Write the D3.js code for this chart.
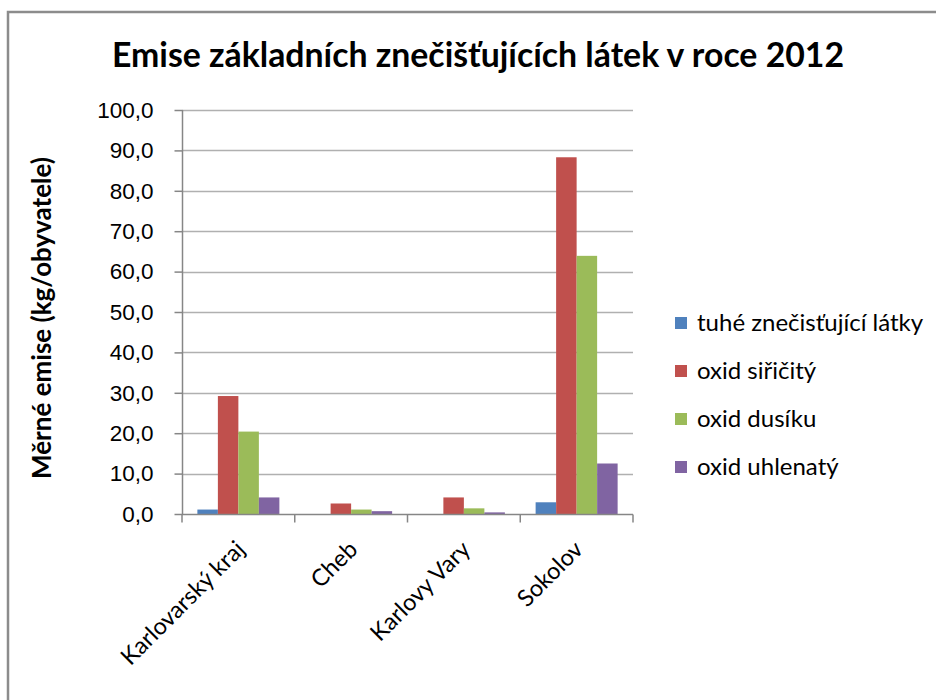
<!DOCTYPE html>
<html lang="cs">
<head>
<meta charset="UTF-8">
<title>Emise 2012</title>
<script src="https://cdn.jsdelivr.net/npm/d3@7"></script>
<style>
  body { margin: 0; background: #fff; }
  svg { display: block; font-family: Lato, "Open Sans", sans-serif; }
</style>
</head>
<body>
<div id="chart"></div>
<script>
// data
var categories = ["Karlovarský kraj", "Cheb", "Karlovy Vary", "Sokolov"];
var seriesNames = ["tuhé znečisťující látky", "oxid siřičitý", "oxid dusíku", "oxid uhlenatý"];
var seriesColors = ["#4F81BD", "#C0504D", "#9BBB59", "#8064A2"];
var tuhe = [1.1, 0.0, 0.0, 2.9];
var siricity = [29.2, 2.6, 4.1, 88.3];
var dusiku = [20.4, 1.1, 1.4, 63.9];
var uhlenaty = [4.1, 0.7, 0.4, 12.5];
var yTicks = [0, 10, 20, 30, 40, 50, 60, 70, 80, 90, 100];

var values = [tuhe, siricity, dusiku, uhlenaty];

var W = 936, H = 700;
var plot = { left: 182, right: 633, top: 110, bottom: 514 };

var svg = d3.select("#chart").append("svg")
    .attr("width", W).attr("height", H);

// outer frame (runs off the right and bottom edge)
svg.append("rect")
    .attr("x", 8).attr("y", 12)
    .attr("width", 940).attr("height", 700)
    .attr("fill", "#fff")
    .attr("stroke", "#8c8c8c").attr("stroke-width", 2.5);

var x0 = d3.scaleBand().domain(categories)
    .range([plot.left, plot.right])
    .paddingInner(0).paddingOuter(0);

// excel style: gap width 150% split on both sides of the group
var x1 = d3.scaleBand().domain(d3.range(seriesNames.length))
    .range([0, x0.bandwidth()])
    .paddingInner(0).paddingOuter(0.75);

var y = d3.scaleLinear().domain([0, 100]).range([plot.bottom, plot.top]);

// gridlines
svg.append("g").selectAll("line").data(yTicks.slice(1)).join("line")
    .attr("x1", plot.left).attr("x2", plot.right)
    .attr("y1", function(d) { return Math.round(y(d)) + 0.5; })
    .attr("y2", function(d) { return Math.round(y(d)) + 0.5; })
    .attr("stroke", "#b0b0b0").attr("stroke-width", 1.5);

// bars
var fmt = function(v) { return d3.format(".1f")(v).replace(".", ","); };
seriesNames.forEach(function(name, si) {
  svg.append("g").selectAll("rect").data(values[si]).join("rect")
      .attr("x", function(d, i) { return x0(categories[i]) + x1(si); })
      .attr("width", x1.bandwidth())
      .attr("y", function(d) { return y(d); })
      .attr("height", function(d) { return y(0) - y(d); })
      .attr("fill", seriesColors[si]);
});

// y axis
var yAxis = d3.axisLeft(y).tickValues(yTicks).tickSize(8).tickPadding(21)
    .tickFormat(fmt);
var gy = svg.append("g").attr("transform", "translate(" + (plot.left + 0.5) + ",0)").call(yAxis);
gy.select(".domain").attr("stroke", "#868686").attr("stroke-width", 1.5)
    .attr("d", "M0," + plot.top + "V" + plot.bottom);
gy.selectAll(".tick line").attr("stroke", "#868686").attr("stroke-width", 1.5);
gy.selectAll(".tick text").attr("font-size", 22.5).attr("fill", "#000");

// x axis
var xAxis = d3.axisBottom(x0).tickSize(0).tickFormat("");
var gx = svg.append("g").attr("transform", "translate(0," + (plot.bottom + 0.5) + ")").call(xAxis);
gx.select(".domain").attr("stroke", "#868686").attr("stroke-width", 1.5)
    .attr("d", "M" + plot.left + ",0H" + plot.right);
gx.selectAll(".sep").data(d3.range(categories.length + 1)).join("line")
    .attr("class", "sep")
    .attr("x1", function(i) { return plot.left + i * x0.bandwidth(); })
    .attr("x2", function(i) { return plot.left + i * x0.bandwidth(); })
    .attr("y1", 0).attr("y2", 8)
    .attr("stroke", "#868686").attr("stroke-width", 1.5);

// rotated category labels
svg.append("g").selectAll("text").data(categories).join("text")
    .attr("transform", function(d) {
      var cx = x0(d) + x0.bandwidth() / 2 + 2;
      return "translate(" + cx + "," + (plot.bottom + 31) + ") rotate(-45)";
    })
    .attr("text-anchor", "end")
    .attr("dy", "0.35em")
    .attr("font-size", 23.5)
    .text(function(d) { return d; });

// title
svg.append("text")
    .attr("x", 478).attr("y", 67)
    .attr("text-anchor", "middle")
    .attr("font-size", 33.8).attr("font-weight", "bold")
    .text("Emise základních znečišťujících látek v roce 2012");

// y axis title
svg.append("text")
    .attr("transform", "translate(51," + ((plot.top + plot.bottom) / 2 + 6) + ") rotate(-90)")
    .attr("text-anchor", "middle")
    .attr("font-size", 26).attr("font-weight", "bold")
    .text("Měrné emise (kg/obyvatele)");

// legend
var legend = svg.append("g").selectAll("g").data(seriesNames).join("g")
    .attr("transform", function(d, i) { return "translate(675," + (323 + i * 48) + ")"; });
legend.append("rect")
    .attr("x", 0).attr("y", -6).attr("width", 12).attr("height", 12)
    .attr("fill", function(d, i) { return seriesColors[i]; });
legend.append("text")
    .attr("x", 22).attr("dy", "0.35em")
    .attr("font-size", 24)
    .text(function(d) { return d; });
</script>
</body>
</html>
